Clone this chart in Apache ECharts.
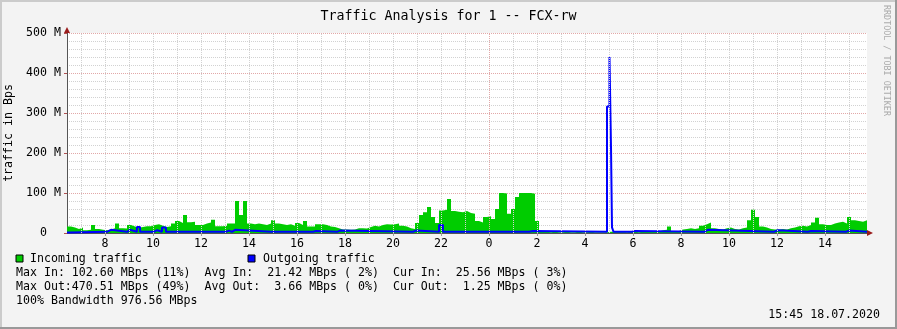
<!DOCTYPE html>
<html>
<head>
<meta charset="utf-8">
<script src="https://cdn.jsdelivr.net/npm/echarts@6/dist/echarts.min.js"></script>
<style>
html,body{margin:0;padding:0;background:#f3f3f3;}
#c{width:897px;height:329px;}
</style>
</head>
<body>
<div id="c"></div>
<script>
// ---- data (values in MBps) ----
const titleText = "Traffic Analysis for 1 -- FCX-rw";
const startHour = 6 + 25/60;   // 06:25 on 17.07 (hours since 17.07 00:00)
const endHour = 39.75;         // 15:45 on 18.07
const stepMinutes = 10;
// incoming traffic, one value per 10 minutes
const inTraffic = [
 16,14,10,14,7,8,20,10,8,7, 9,12,24,12,11,20,16,13,15,17,
 17,20,22,18,15,17,24,30,25,45, 27,28,20,20,24,26,33,17,17,18,
 24,24,80,45,80,24,22,24,22,20, 24,32,24,22,20,22,18,25,20,30,
 16,16,22,22,20,16,15,12,9,9, 8,9,12,12,11,15,18,16,20,22,
 21,22,24,18,16,12,10,25,45,52, 65,40,25,56,58,85,55,53,52,55,
 50,48,30,26,40,42,35,60,100,99, 48,60,90,100,100,100,98,30,4,3,
 2,3,2,2,3,2,2,3,2,2, 3,2,2,2,2,3,3,4,3,2,
 3,3,2,3,4,3,5,4,7,8, 16,4,5,9,10,12,10,12,18,22,
 26,12,10,9,12,14,10,9,12,14, 32,58,40,16,14,10,9,9,10,9,
 12,14,17,18,16,20,26,38,22,20, 20,24,26,28,24,40,32,30,28,32
];
// outgoing traffic as step change points (hour, value)
const outTimes = [
 6.4167,6.54, 8.083,8.25, 8.917,9.04, 9.33,9.46, 10.04,10.17, 10.375,10.54,
 13.04,13.17, 13.29,13.42, 14.92,15.0, 16.67,16.79, 17.67,17.79, 20.83,20.96,
 21.92,22.08, 25.67,25.83, 28.917,29.02,29.083,29.125,29.19,
 29.96,30.08, 32.96,33.12, 35.87,36.04, 37.29,37.42, 38.87,39.0, 39.75
];
const outVals = [
 1,3, 8,3, 8,3, 15,3, 7,3, 14,3,
 6,3, 8,3, 5,3, 5,3, 6,3, 6,3,
 20,3, 5,3, 316,440,217,14,3,
 5,3, 8,3, 7,3, 5,3, 6,3, 3
];
const tickHours = [8,10,12,14,16,18,20,22,24,26,28,30,32,34,36,38];
const gridHours = [7,8,9,10,11,12,13,14,15,16,17,18,19,20,21,22,23,24,25,26,27,28,29,30,31,32,33,34,35,36,37,38,39];
const midnightHours = [24];
const legendNames = ["Incoming traffic","Outgoing traffic"];
const statLines = [
 "Max In: 102.60 MBps (11%)  Avg In:  21.42 MBps ( 2%)  Cur In:  25.56 MBps ( 3%)",
 "Max Out:470.51 MBps (49%)  Avg Out:  3.66 MBps ( 0%)  Cur Out:  1.25 MBps ( 0%)",
 "100% Bandwidth 976.56 MBps"
];
const stampText = "15:45 18.07.2020";
const sideText = "RRDTOOL / TOBI OETIKER";

// ---- build ----
const MONO = "'DejaVu Sans Mono', 'Liberation Mono', monospace";
const inPts = inTraffic.map((v,i)=>[startHour + i*stepMinutes/60, v]);
inPts.push([endHour, inTraffic[inTraffic.length-1]]);
const outPts = outTimes.map((t,i)=>[t, outVals[i]]);

const chart = echarts.init(document.getElementById('c'), null, {renderer:'canvas'});
const gridLines = gridHours.map(h=>({
  xAxis:h,
  lineStyle: midnightHours.includes(h) ? {color:'#e2a8a8', type:[1,1], width:1} : {color:'#d2d2d2', type:[1,1], width:1}
}));

chart.setOption({
  animation:false,
  backgroundColor:'#f3f3f3',
  title:{text:titleText, left:'center', top:5,
    textStyle:{fontFamily:MONO, fontSize:13.3, fontWeight:'normal', color:'#000'}},
  grid:{left:67, top:33, width:800, height:200, show:true, backgroundColor:'#fff', borderWidth:0,
    containLabel:false, outerBoundsMode:'none'},
  xAxis:{type:'value', min:startHour, max:endHour,
    axisLine:{show:true, lineStyle:{color:'#555', width:1}},
    axisTick:{show:true, customValues:tickHours, length:3, lineStyle:{color:'#999'}},
    axisLabel:{customValues:tickHours, formatter:v=>String(Math.round(v)%24), margin:5,
      fontFamily:MONO, fontSize:11.6, color:'#000'},
    splitLine:{show:false}},
  yAxis:{type:'value', min:0, max:500, interval:100,
    name:'traffic in Bps', nameLocation:'middle', nameGap:49, nameRotate:90,
    nameTextStyle:{fontFamily:MONO, fontSize:11.6, color:'#000'},
    axisLine:{show:true, lineStyle:{color:'#555', width:1}},
    axisTick:{show:true, length:3, lineStyle:{color:'#b05050'}},
    axisLabel:{formatter:v=> v===0 ? '0  ' : v+' M', margin:6, fontFamily:MONO, fontSize:11.6, color:'#000'},
    splitLine:{show:true, lineStyle:{color:'#e2a8a8', type:[1,1], width:1}},
    minorTick:{show:false, splitNumber:5},
    minorSplitLine:{show:true, lineStyle:{color:'#d2d2d2', type:[1,1], width:1}}
  },
  series:[
    {type:'line', data:[], z:1, silent:true,
     markLine:{silent:true, symbol:'none', label:{show:false}, animation:false, data:gridLines}},
    {name:legendNames[0], type:'line', step:'end', data:inPts, symbol:'none', z:2,
     lineStyle:{width:0, color:'#00cc00'}, areaStyle:{color:'#00cc00', opacity:1}},
    {name:legendNames[1], type:'line', step:'end', data:outPts, symbol:'none', z:3,
     lineStyle:{width:2, color:'#0000ff'}}
  ],
  graphic:[
    // frame shading
    {type:'rect', shape:{x:0,y:0,width:897,height:2}, style:{fill:'#cbcbcb'}, silent:true},
    {type:'rect', shape:{x:0,y:0,width:2,height:329}, style:{fill:'#cbcbcb'}, silent:true},
    {type:'rect', shape:{x:0,y:327,width:897,height:2}, style:{fill:'#999'}, silent:true},
    {type:'rect', shape:{x:895,y:0,width:2,height:329}, style:{fill:'#999'}, silent:true},
    // axis arrows
    {type:'polygon', shape:{points:[[64,33],[70,33],[67,27]]}, style:{fill:'#9a1c1c'}, z:10, silent:true},
    {type:'polygon', shape:{points:[[867,230],[867,236],[873,233]]}, style:{fill:'#9a1c1c'}, z:10, silent:true},
    // legend
    {type:'rect', shape:{x:16,y:255,width:7,height:7}, style:{fill:'#00cc00', stroke:'#000', lineWidth:1}, silent:true},
    {type:'text', x:30, y:259, style:{text:legendNames[0], font:'11.6px '+MONO, fill:'#000', verticalAlign:'middle'}},
    {type:'rect', shape:{x:248,y:255,width:7,height:7}, style:{fill:'#0000ff', stroke:'#000', lineWidth:1}, silent:true},
    {type:'text', x:263, y:259, style:{text:legendNames[1], font:'11.6px '+MONO, fill:'#000', verticalAlign:'middle'}},
    {type:'text', x:16, y:273, style:{text:statLines[0], font:'11.6px '+MONO, fill:'#000', verticalAlign:'middle'}},
    {type:'text', x:16, y:287, style:{text:statLines[1], font:'11.6px '+MONO, fill:'#000', verticalAlign:'middle'}},
    {type:'text', x:16, y:301, style:{text:statLines[2], font:'11.6px '+MONO, fill:'#000', verticalAlign:'middle'}},
    {type:'text', x:880, y:315, style:{text:stampText, font:'11.6px '+MONO, fill:'#000', verticalAlign:'middle', align:'right'}},
    {type:'text', x:886, y:5, rotation:-Math.PI/2, style:{text:sideText, font:'8.4px '+MONO, fill:'#aaa', verticalAlign:'middle', align:'left'}}
  ]
});
</script>
</body>
</html>
